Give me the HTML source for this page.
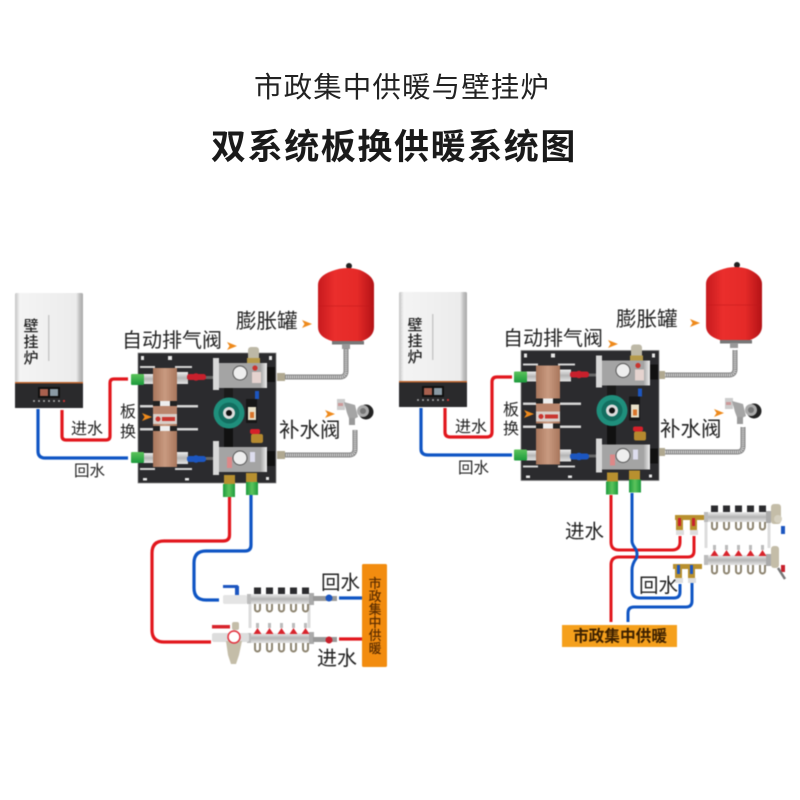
<!DOCTYPE html>
<html><head><meta charset="utf-8">
<style>
html,body{margin:0;padding:0;background:#fff}
svg{display:block}
text{font-family:"Liberation Sans","Noto Sans CJK SC",sans-serif;fill:#222}
</style></head><body>
<svg width="800" height="800" viewBox="0 0 800 800" xmlns="http://www.w3.org/2000/svg">
<defs>
<linearGradient id="bw" x1="0" x2="1" y1="0" y2="0"><stop offset="0" stop-color="#c4c4c4"/><stop offset=".07" stop-color="#f4f4f4"/><stop offset=".9" stop-color="#ececec"/><stop offset=".95" stop-color="#c0c0c0"/><stop offset="1" stop-color="#a9a9a9"/></linearGradient>
<linearGradient id="tank" x1="0" x2="1" y1="0" y2="0"><stop offset="0" stop-color="#c81a1e"/><stop offset=".3" stop-color="#ea2e2c"/><stop offset=".7" stop-color="#e52a28"/><stop offset="1" stop-color="#b31216"/></linearGradient>
<linearGradient id="steel" x1="0" x2="0" y1="0" y2="1"><stop offset="0" stop-color="#eee"/><stop offset=".5" stop-color="#b4b4b4"/><stop offset="1" stop-color="#e4e4e4"/></linearGradient>
<linearGradient id="block" x1="0" x2="1" y1="0" y2="0"><stop offset="0" stop-color="#eee"/><stop offset=".1" stop-color="#a4a4a4"/><stop offset=".88" stop-color="#a4a4a4"/><stop offset="1" stop-color="#f0f0f0"/></linearGradient>
<linearGradient id="cop" x1="0" x2="1" y1="0" y2="0"><stop offset="0" stop-color="#a8765c"/><stop offset=".5" stop-color="#c99a80"/><stop offset="1" stop-color="#a8765c"/></linearGradient>
<linearGradient id="green" x1="0" x2="0" y1="0" y2="1"><stop offset="0" stop-color="#5cc45c"/><stop offset="1" stop-color="#1c9a3c"/></linearGradient>
<linearGradient id="greenV" x1="0" x2="1" y1="0" y2="0"><stop offset="0" stop-color="#1c9a3c"/><stop offset=".5" stop-color="#5cc45c"/><stop offset="1" stop-color="#1c9a3c"/></linearGradient>

<g id="boiler">
  <rect x="15" y="293" width="68" height="115" rx="1.5" fill="url(#bw)"/>
  <rect x="15" y="383" width="68" height="25" fill="#2a2a2c"/>
  <rect x="15" y="382" width="68" height="1.5" fill="#b9622c"/>
  <rect x="48" y="315" width="1.500" height="46" fill="#c9c9c9"/>
  <rect x="38" y="387" width="22" height="11" fill="#111"/>
  <rect x="40" y="389" width="8" height="7" fill="#a8604e"/><rect x="50" y="389" width="8" height="7" fill="#8a9aa4"/>
  <g fill="#aaa"><circle cx="34" cy="401" r="1"/><circle cx="39" cy="401" r="1"/><circle cx="44" cy="401" r="1"/><circle cx="49" cy="401" r="1"/><circle cx="54" cy="401" r="1"/><circle cx="59" cy="401" r="1"/></g>
  <circle cx="64" cy="401" r="1.100" fill="#c33"/>
</g>

<g id="tankS">
  <circle cx="349" cy="266" r="3" fill="#222"/>
  <path d="M318 285 Q318 276 332 271 Q346 265.500 360 270 Q374 276 374 285 L374 327 Q374 337 362 341 L332 341 Q318 337 318 327 Z" fill="url(#tank)"/>
  <path d="M318 306 H374" stroke="#c0181a" stroke-width=".6"/>
  <rect x="332" y="341" width="32" height="3.500" fill="#777"/>
  <rect x="342" y="344" width="8" height="5" fill="#999"/>
</g>

<g id="panel">
  <rect x="138" y="353" width="138" height="130" fill="#2b2b2e" stroke="#8a8a8a" stroke-width=".7"/>
  <g fill="#e8e8e8">
    <rect x="141" y="356" width="3" height="4"/><rect x="168" y="356" width="4" height="4"/><rect x="269" y="356" width="3" height="4"/>
    <rect x="143" y="478" width="4" height="2.500"/><rect x="185" y="478" width="4" height="2.500"/><rect x="266" y="477" width="3" height="3"/>
  </g>
  <g fill="#d5d5d5">
    <rect x="140" y="366" width="15" height="2"/><rect x="175" y="366" width="17" height="2"/>
    <rect x="140" y="405" width="15" height="2.500"/><rect x="177" y="405" width="21" height="2.500"/>
    <rect x="140" y="428" width="15" height="2.500"/><rect x="177" y="428" width="21" height="2.500"/>
    <rect x="140" y="468" width="15" height="2"/><rect x="175" y="468" width="17" height="2"/>
  </g>
  <rect x="153" y="368" width="24" height="99" fill="url(#cop)"/>
  <rect x="153" y="401" width="24" height="5" fill="#222"/>
  <rect x="160" y="401" width="10" height="5" fill="#eee"/>
  <rect x="153" y="406" width="24" height="9" fill="#b9856c"/>
  <rect x="153" y="414" width="24" height="10" fill="#d8cfc9"/>
  <circle cx="158" cy="419" r="2.500" fill="#c9352f"/>
  <rect x="162" y="417" width="13" height="4" fill="#c9352f"/>
  <rect x="153" y="426" width="24" height="5" fill="#222"/>
  <rect x="160" y="426" width="10" height="5" fill="#eee"/>
  <rect x="143" y="374" width="10" height="10" fill="url(#steel)"/>
  <rect x="143" y="453" width="10" height="10" fill="url(#steel)"/>
  <rect x="177" y="372" width="11" height="12" fill="url(#steel)"/>
  <rect x="177" y="452" width="11" height="12" fill="url(#steel)"/>
  <rect x="131" y="374" width="13" height="11" rx="1" fill="url(#green)"/>
  <rect x="131" y="452" width="13" height="11" rx="1" fill="url(#green)"/>
  <rect x="187" y="376" width="26" height="3" fill="#666"/>
  <rect x="187" y="457" width="26" height="3" fill="#666"/>
  <rect x="187" y="374" width="19" height="6" rx="2.500" fill="#c8202c"/><circle cx="196" cy="377" r="3.800" fill="#c8202c"/>
  <rect x="187" y="456" width="19" height="6" rx="2.500" fill="#1c56c0"/><circle cx="196" cy="459" r="3.800" fill="#1c56c0"/>
  <rect x="213" y="363" width="54" height="25" fill="url(#block)"/>
  <rect x="213" y="358" width="6" height="32" fill="#d8d8d8"/>
  <circle cx="240" cy="373" r="7" fill="#eee" stroke="#555" stroke-width="1"/>
  <circle cx="255" cy="368" r="2.600" fill="#c9352f"/><rect x="252" y="372" width="9" height="11" fill="#e5d3cf"/>
  <rect x="267" y="367" width="8" height="15" fill="#111"/>
  <rect x="248" y="347" width="11" height="14" rx="3" fill="#bdb8a6"/>
  <rect x="247" y="358" width="13" height="5" fill="#b59a4a"/>
  <rect x="224" y="388" width="9" height="12" fill="#1a1a1a"/>
  <rect x="224" y="426" width="9" height="22" fill="#111"/>
  <circle cx="229" cy="413" r="15.500" fill="#1f8f7c"/>
  <circle cx="229" cy="413" r="10.500" fill="#136e60"/>
  <circle cx="229" cy="413" r="6" fill="#dcdcdc"/>
  <circle cx="229" cy="413" r="3" fill="#111"/>
  <rect x="246" y="399" width="11" height="24" fill="#161616"/>
  <rect x="248" y="407" width="8" height="13" fill="#e8e0c8"/>
  <rect x="250" y="412" width="4" height="6" fill="#d9752c"/>
  <rect x="255" y="391" width="4" height="8" fill="#1c56c0"/>
  <rect x="250" y="429" width="10" height="5" rx="2" fill="#d6202a"/>
  <rect x="251" y="434" width="12" height="9" rx="2" fill="#b5892f"/>
  <rect x="213" y="447" width="54" height="25" fill="url(#block)"/>
  <rect x="213" y="441" width="6" height="34" fill="#d8d8d8"/>
  <circle cx="240" cy="458" r="7" fill="#eee" stroke="#555" stroke-width="1"/>
  <rect x="227" y="457" width="5" height="11" fill="#d88"/>
  <rect x="250" y="452" width="5" height="10" fill="#dde"/>
  <rect x="267" y="451" width="8" height="15" fill="#111"/>
  <rect x="224" y="475" width="11" height="9" fill="#b8902f"/>
  <rect x="246" y="473" width="11" height="9" fill="#b8902f"/>
  <rect x="223" y="484" width="12" height="13" fill="url(#greenV)"/>
  <rect x="246" y="482" width="12" height="13" fill="url(#greenV)"/>
</g>

<g id="tap">
  <rect x="337" y="399" width="8" height="11" fill="#ccc"/>
  <rect x="338" y="403" width="5" height="3" fill="#c99"/>
  <path d="M344 402 L355 405 L358 417 L350 421 L347 413 Z" fill="#a5a5a5"/>
  <circle cx="366" cy="412" r="7.500" fill="#222"/>
  <circle cx="363" cy="411" r="6" fill="#aaa"/>
  <circle cx="363" cy="411" r="3" fill="#777"/>
  <rect x="349" y="418" width="6" height="7" fill="#999"/>
</g>

<g id="mfTop">
  <rect x="0" y="-5" width="66" height="10" rx="2" fill="url(#steel)"/>
  <rect x="0" y="-5" width="4" height="10" fill="#bbb"/>
  <rect x="62" y="-6" width="5" height="12" fill="#aaa"/>
  <g fill="#2b2b2e"><rect x="7" y="-11.500" width="7" height="6.500"/><rect x="19" y="-11.500" width="7" height="6.500"/><rect x="31" y="-11.500" width="7" height="6.500"/><rect x="43" y="-11.500" width="7" height="6.500"/><rect x="55" y="-11.500" width="7" height="6.500"/></g>
  <g fill="none" stroke="#8d8470" stroke-width="2"><path d="M8 5v5a2.500 2.500 0 0 0 5 0V5"/><path d="M20 5v5a2.500 2.500 0 0 0 5 0V5"/><path d="M32 5v5a2.500 2.500 0 0 0 5 0V5"/><path d="M44 5v5a2.500 2.500 0 0 0 5 0V5"/><path d="M56 5v5a2.500 2.500 0 0 0 5 0V5"/></g>
</g>
<g id="mfBot">
  <rect x="0" y="-5" width="66" height="10" rx="2" fill="url(#steel)"/>
  <rect x="0" y="-5" width="4" height="10" fill="#bbb"/>
  <rect x="62" y="-6" width="5" height="12" fill="#aaa"/>
  <g fill="#d8242c"><path d="M6.500 -4l4 -6 4 6z"/><path d="M18.500 -4l4 -6 4 6z"/><path d="M30.500 -4l4 -6 4 6z"/><path d="M42.500 -4l4 -6 4 6z"/><path d="M54.500 -4l4 -6 4 6z"/></g>
  <g fill="#bbb"><rect x="9" y="-15" width="3" height="5"/><rect x="21" y="-15" width="3" height="5"/><rect x="33" y="-15" width="3" height="5"/><rect x="45" y="-15" width="3" height="5"/><rect x="57" y="-15" width="3" height="5"/></g>
  <g fill="none" stroke="#8d8470" stroke-width="2"><path d="M8 5v6a2.500 2.500 0 0 0 5 0V5"/><path d="M20 5v6a2.500 2.500 0 0 0 5 0V5"/><path d="M32 5v6a2.500 2.500 0 0 0 5 0V5"/><path d="M44 5v6a2.500 2.500 0 0 0 5 0V5"/><path d="M56 5v6a2.500 2.500 0 0 0 5 0V5"/></g>
</g>
<path id="arr" d="M0 -4 L10 0 L0 4 L2.500 0 Z" fill="#ee8a1c"/>
</defs>

<text x="254" y="97" font-size="28.500" letter-spacing="1.100">市政集中供暖与壁挂炉</text>
<text x="211" y="159" font-size="35" font-weight="700" letter-spacing="1.600" style="fill:#1a1a1a">双系统板换供暖系统图</text>

<g style="filter:blur(.4px)">
<g fill="none" stroke-width="3.200">
  <path d="M62 410 V436 Q62 440 66 440 H106 Q110 440 110 436 V383 Q110 379 114 379 H128" stroke="#e2171d"/>
  <path d="M38 409 V451 Q38 458 45 458 H128" stroke="#0f55c4"/>
  <path d="M229.500 497 V535 Q229.500 541 223 541 H164 Q152 541 152 553 V630 Q152 642 164 642 H211" stroke="#e2171d"/>
  <path d="M251 495 V545 Q251 551 245 551 H206 Q194 551 194 563 V588 Q194 600 206 600 H219" stroke="#0f55c4"/>
  <path d="M339 598 H363" stroke="#0f55c4"/>
  <path d="M339 639 H363" stroke="#e2171d"/>
</g>
<g fill="none">
  <path d="M282 377 H340 Q346 377 346 371 V349" stroke="#858585" stroke-width="5"/>
  <path d="M282 377 H340 Q346 377 346 371 V349" stroke="#d8d8d8" stroke-width="3" stroke-dasharray="1 1"/>
  <path d="M282 455 H349 Q355 455 355 449 V430" stroke="#858585" stroke-width="5"/>
  <path d="M282 455 H349 Q355 455 355 449 V430" stroke="#d8d8d8" stroke-width="3" stroke-dasharray="1 1"/>
</g>
<rect x="277" y="373" width="8" height="8" fill="#b0a890"/>
<rect x="277" y="451" width="8" height="8" fill="#b0a890"/>
<use href="#boiler"/>
<use href="#tankS"/>
<use href="#panel"/>
<use href="#tap"/>

<g font-size="15" text-anchor="middle" font-weight="500"><text x="31" y="331">壁</text><text x="31" y="347">挂</text><text x="31" y="363">炉</text></g>
<text x="122" y="347" font-size="20">自动排气阀</text>
<text x="236" y="328" font-size="20.500">膨胀罐</text>
<text x="120" y="417" font-size="16">板</text>
<text x="120" y="437" font-size="16">换</text>
<text x="71" y="434" font-size="16">进水</text>
<text x="74" y="476" font-size="15.500">回水</text>
<text x="279" y="437" font-size="20.500">补水阀</text>
<use href="#arr" x="227" y="346"/>
<use href="#arr" x="302" y="324"/>
<use href="#arr" x="142" y="417"/>
<use href="#arr" x="325" y="414"/>

<path d="M250 603 V628 M309 603 V628" stroke="#ddd" stroke-width="3"/>
<rect x="223" y="595" width="24" height="9" rx="2" fill="#e4e4e4"/>
<rect x="223" y="585" width="15" height="3" fill="#1c56c0"/>
<rect x="235" y="586" width="4" height="9" fill="#1c56c0"/>
<use href="#mfTop" x="247" y="599"/>
<use href="#mfBot" x="247" y="638"/>
<rect x="313" y="596" width="24" height="5" fill="#999"/><circle cx="329" cy="598" r="3.500" fill="#1c56c0"/>
<rect x="313" y="637" width="24" height="5" fill="#999"/><circle cx="329" cy="640" r="3.500" fill="#c8202c"/>
<rect x="212" y="633" width="37" height="9" rx="2" fill="#ddd"/>
<rect x="212" y="625" width="18" height="3.500" fill="#d8242c"/>
<path d="M226 641 h16 l-3 14 l-3 9 h-5 l-3 -9z" fill="#c4bda8"/>
<rect x="232" y="622" width="7" height="8" rx="2" fill="#c4bda8"/>
<circle cx="234" cy="637" r="6" fill="#fff" stroke="#e2303c" stroke-width="1.500"/>
<rect x="362" y="564" width="25" height="103" rx="1.500" fill="#f28c0f"/>
<g font-size="12.800" text-anchor="middle" font-weight="500"><text x="375" y="588" style="fill:#5a2c00">市</text><text x="375" y="601" style="fill:#5a2c00">政</text><text x="375" y="614" style="fill:#5a2c00">集</text><text x="375" y="627" style="fill:#5a2c00">中</text><text x="375" y="640" style="fill:#5a2c00">供</text><text x="375" y="653" style="fill:#5a2c00">暖</text></g>
<text x="321" y="589" font-size="19.500">回水</text>
<text x="317" y="665" font-size="20">进水</text>

<g fill="none" stroke-width="3.200">
  <path d="M445 408 V432 Q445 437 450 437 H487 Q492 437 492 432 V382 Q492 377 497 377 H512" stroke="#e2171d"/>
  <path d="M421 408 V449 Q421 455 428 455 H512" stroke="#0f55c4"/>
</g>
<g fill="none">
  <path d="M661 375 H729 Q735 375 735 369 V350" stroke="#858585" stroke-width="5"/>
  <path d="M661 375 H729 Q735 375 735 369 V350" stroke="#d8d8d8" stroke-width="3" stroke-dasharray="1 1"/>
  <path d="M661 452 H737 Q743 452 743 446 V427" stroke="#858585" stroke-width="5"/>
  <path d="M661 452 H737 Q743 452 743 446 V427" stroke="#d8d8d8" stroke-width="3" stroke-dasharray="1 1"/>
</g>
<rect x="658" y="371" width="7" height="8" fill="#b0a890"/>
<rect x="658" y="448" width="7" height="8" fill="#b0a890"/>
<use href="#boiler" x="384" y="-1"/>
<use href="#tankS" x="388" y="-1"/>
<use href="#panel" transform="translate(383 -2.500)"/>
<use href="#tap" x="388" y="-1"/>

<g font-size="15" text-anchor="middle" font-weight="500"><text x="415" y="330">壁</text><text x="415" y="346">挂</text><text x="415" y="362">炉</text></g>
<text x="503" y="345" font-size="20">自动排气阀</text>
<text x="616" y="326" font-size="20.500">膨胀罐</text>
<text x="503" y="415" font-size="16">板</text>
<text x="503" y="434" font-size="16">换</text>
<text x="455" y="432" font-size="16">进水</text>
<text x="458" y="473" font-size="15.500">回水</text>
<text x="660" y="436" font-size="20.500">补水阀</text>
<use href="#arr" x="608" y="344"/>
<use href="#arr" x="690" y="323"/>
<use href="#arr" x="524" y="414"/>
<use href="#arr" x="714" y="413"/>

<g fill="none" stroke-width="3">
  <path d="M611 495 V542 Q611 550 619 550 H672 Q680 550 680 542 V536" stroke="#e2171d"/>
  <path d="M611 622 V565 Q611 557 619 557 H688 Q694 557 694 551 V536" stroke="#e2171d"/>
  <path d="M632 493 V541 Q632 544 635 548 Q638 552 636.500 558 Q632 564 632 570 V590 Q632 598 640 598 H674 Q680 598 680 592 V584" stroke="#0f55c4"/>
  <path d="M628 622 V613 Q628 607 634 607 H686 Q692 607 692 601 V583" stroke="#0f55c4"/>
</g>
<path d="M706 522 V548 M769 522 V548" stroke="#ddd" stroke-width="3"/>
<use href="#mfTop" x="704" y="517"/>
<use href="#mfBot" x="704" y="560"/>
<g>
  <rect x="675" y="515" width="29" height="5" fill="#b8902f"/>
  <rect x="676" y="516" width="7" height="14" fill="#b8902f"/><rect x="690" y="516" width="7" height="14" fill="#b8902f"/>
  <rect x="678" y="518" width="3" height="8" fill="#c8202c"/><rect x="692" y="518" width="3" height="8" fill="#c8202c"/>
  <rect x="676" y="530" width="8" height="5" fill="#ddd"/><rect x="690" y="530" width="8" height="5" fill="#ddd"/>
  <rect x="673" y="564" width="29" height="5" fill="#b8902f"/>
  <rect x="675" y="565" width="7" height="13" fill="#b8902f"/><rect x="688" y="565" width="7" height="13" fill="#b8902f"/>
  <rect x="677" y="565" width="3" height="9" fill="#1c56c0"/><rect x="690" y="565" width="3" height="9" fill="#1c56c0"/>
  <rect x="675" y="578" width="8" height="5" fill="#ddd"/><rect x="688" y="578" width="8" height="5" fill="#ddd"/>
</g>
<rect x="771" y="504" width="10" height="20" rx="3" fill="#c4bda8"/>
<circle cx="778" cy="519" r="4" fill="#d5d0c0"/>
<rect x="781" y="526" width="4" height="8" fill="#1c56c0"/>
<rect x="771" y="546" width="8" height="22" rx="3" fill="#c4bda8"/>
<rect x="781" y="565" width="4" height="7" fill="#c8202c"/>
<path d="M778 568 l7 11" stroke="#777" stroke-width="2.500"/>
<rect x="562" y="625" width="115" height="22" fill="#f5a01c"/>
<text x="620" y="641.500" font-size="15.700" text-anchor="middle" font-weight="700" style="fill:#3c2000">市政集中供暖</text>
<text x="565" y="538" font-size="19.500">进水</text>
<text x="639" y="592" font-size="19.500">回水</text>
</g>
</svg>
</body></html>
